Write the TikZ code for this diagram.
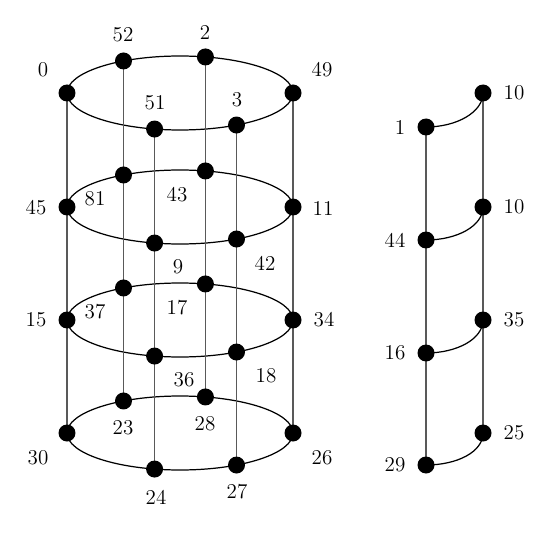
\documentclass[tikz,border=0pt]{standalone}
\usetikzlibrary{backgrounds}
\begin{document}
\begin{tikzpicture}[x=0.02cm,y=-0.02cm,
  dot/.style={circle,fill=black,inner sep=0pt,minimum size=0.34cm},
  lbl/.style={font=\fontsize{12}{14}\selectfont,inner sep=0pt},
  ring/.style={line width=0.7pt,black},
  pole/.style={line width=0.7pt,black!65}]
\useasboundingbox (0,0) rectangle (550,533);
% cylinder nodes
\foreach \lv/\y in {a/93,b/207,c/320,d/433}{
  \foreach \k/\ang in {1/180,2/-120,3/-77,4/0,5/103,6/60}{
    \node[dot] (\lv\k) at ({180+113*cos(\ang)},{\y+37*sin(\ang)}) {};
  }
}
% right ladder nodes
\node[dot] (r1) at (426,127) {};
\node[dot] (r2) at (426,240) {};
\node[dot] (r3) at (426,353) {};
\node[dot] (r4) at (426,465) {};
\node[dot] (s1) at (483,93) {};
\node[dot] (s2) at (483,207) {};
\node[dot] (s3) at (483,320) {};
\node[dot] (s4) at (483,433) {};
\begin{scope}[on background layer]
  \foreach \y in {93,207,320,433}{
    \draw[ring] (180,\y) ellipse [x radius=113, y radius=37];
  }
  \foreach \k in {1,...,6}{
    \draw[pole] (a\k.center) -- (b\k.center) -- (c\k.center) -- (d\k.center);
  }
  \draw[pole] (r1.center) -- (r2.center) -- (r3.center) -- (r4.center);
  \draw[pole] (s1.center) -- (s2.center) -- (s3.center) -- (s4.center);
  \foreach \i in {1,...,4}{
    \draw[ring] (r\i.center) .. controls +(31,0) and +(0,19) .. (s\i.center);
  }
\end{scope}
% labels
\node[lbl] (la1) at (43,70) {0};
\node[lbl] (la2) at (123,35) {52};
\node[lbl] (la3) at (205,32) {2};
\node[lbl] (la4) at (322,70) {49};
\node[lbl] (la5) at (155,103) {51};
\node[lbl] (la6) at (237,100) {3};
\node[lbl] (lb1) at (36,208) {45};
\node[lbl] (lb2) at (95,199) {81};
\node[lbl] (lb3) at (177,195) {43};
\node[lbl] (lb4) at (323,208) {11};
\node[lbl] (lb5) at (178,267) {9};
\node[lbl] (lb6) at (265,263) {42};
\node[lbl] (lc1) at (36,320) {15};
\node[lbl] (lc2) at (95,312) {37};
\node[lbl] (lc3) at (177,308) {17};
\node[lbl] (lc4) at (324,320) {34};
\node[lbl] (lc5) at (184,380) {36};
\node[lbl] (lc6) at (266,376) {18};
\node[lbl] (ld1) at (38,458) {30};
\node[lbl] (ld2) at (123,428) {23};
\node[lbl] (ld3) at (205,424) {28};
\node[lbl] (ld4) at (322,458) {26};
\node[lbl] (ld5) at (156,497) {24};
\node[lbl] (ld6) at (237,492) {27};
\node[lbl] (lr1) at (400,127) {1};
\node[lbl] (lr2) at (395,240) {44};
\node[lbl] (lr3) at (395,353) {16};
\node[lbl] (lr4) at (395,465) {29};
\node[lbl] (ls1) at (514,93) {10};
\node[lbl] (ls2) at (514,207) {10};
\node[lbl] (ls3) at (514,320) {35};
\node[lbl] (ls4) at (514,433) {25};
\end{tikzpicture}
\end{document}
